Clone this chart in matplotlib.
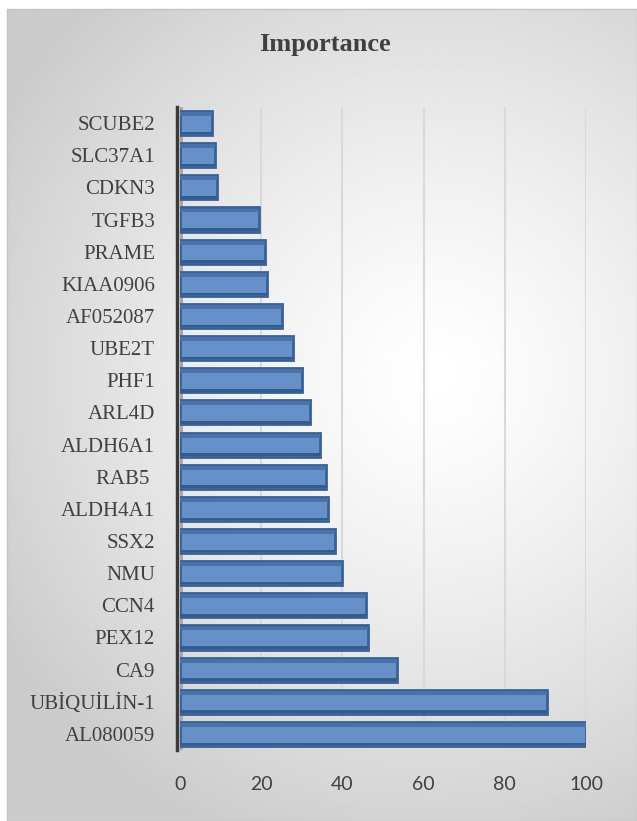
import numpy as np
import matplotlib
matplotlib.use('Agg')
import matplotlib.pyplot as plt

# datos (de arriba hacia abajo)
genes = ['SCUBE2', 'SLC37A1', 'CDKN3', 'TGFB3', 'PRAME', 'KIAA0906', 'AF052087',
         'UBE2T', 'PHF1', 'ARL4D', 'ALDH6A1', 'RAB5 ', 'ALDH4A1', 'SSX2', 'NMU',
         'CCN4', 'PEX12', 'CA9', 'UBİQUİLİN-1', 'AL080059']
importancia = [8.0, 8.6, 9.0, 19.4, 21.0, 21.4, 25.1, 27.8, 30.0, 32.1, 34.4,
               36.0, 36.4, 38.2, 40.0, 45.7, 46.4, 53.4, 90.5, 100.0]
ticks_x = [0, 20, 40, 60, 80, 100]

W, H = 637, 821
fig = plt.figure(figsize=(W / 100, H / 100), dpi=100)
fig.patch.set_facecolor('white')

# fondo con degradado radial (estilo excel)
bg = fig.add_axes([7 / W, 0, 1 - 7 / W, 1 - 9 / H], zorder=0)
gx, gy = np.meshgrid(np.linspace(0, 1, 300), np.linspace(0, 1, 400))
dist = np.sqrt(((gx - 0.68) * 0.78) ** 2 + (gy - 0.45) ** 2)
t = np.clip(dist / 0.62, 0, 1) ** 1.3
gris = 1.0 - t * (1.0 - 0.80)
bg.imshow(gris, cmap='gray', vmin=0, vmax=1, aspect='auto', extent=[0, 1, 0, 1])
bg.set_xticks([])
bg.set_yticks([])
for s in bg.spines.values():
    s.set_color('#c4c4c4')
    s.set_linewidth(1)

fig.text(325 / W, 1 - 45 / H, 'Importance', ha='center', va='center',
         family='Liberation Serif', fontweight='bold', fontsize=19, color='#404040')

ax = fig.add_axes([180 / W, 1 - 750 / H, 406 / W, 643 / H], zorder=1)
ax.patch.set_alpha(0)
# el set_position reinicia los ticks, por eso va primero
for lado in ['top', 'right', 'bottom']:
    ax.spines[lado].set_visible(False)
ax.spines['left'].set_position(('outward', 2))
ax.spines['left'].set_color('#3a3a3a')
ax.spines['left'].set_linewidth(2.5)

y = np.arange(len(genes))

# sombra del eje
ax.axvspan(0, 0.8, color='#a8a8a8', zorder=1, lw=0)

# barras con apariencia 3d
ax.barh(y, importancia, height=0.75, color='#6690c8', edgecolor='#3a6196',
        linewidth=2, zorder=3)
ax.barh(y - 0.28, importancia, height=0.12, color='#4872ab', linewidth=0, zorder=4)
ax.barh(y + 0.31, importancia, height=0.08, color='#345a8e', linewidth=0, zorder=4)

ax.set_xlim(0, 100)
ax.set_ylim(len(genes) - 0.5, -0.5)
ax.tick_params(axis='x', length=0, pad=19)
ax.tick_params(axis='y', length=0, pad=16)
ax.set_xticks(ticks_x)
ax.set_xticklabels([str(v) for v in ticks_x], fontfamily='Lato', fontsize=14,
                   color='#404040')
ax.set_yticks(y)
ax.set_yticklabels(genes, fontfamily='Liberation Serif', fontsize=15,
                   color='#404040')
ax.grid(axis='x', color='#d9d9d9', linewidth=1.5, zorder=0)
ax.set_axisbelow(True)

fig.savefig('out.png', dpi=100)
